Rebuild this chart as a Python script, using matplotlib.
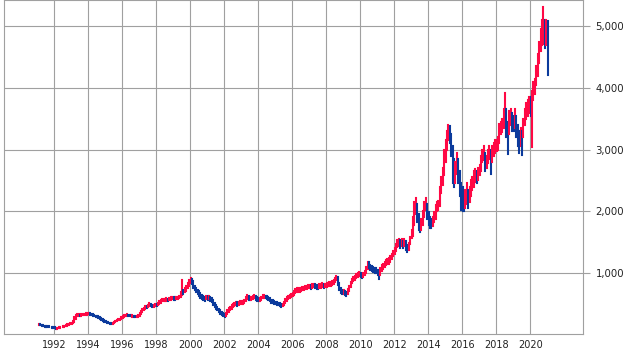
import pandas as pd
import matplotlib
matplotlib.use('Agg')
import matplotlib.pyplot as plt
import matplotlib.dates as mdates
from matplotlib.ticker import FuncFormatter

# monthly bars, Feb 1991 .. Jan 2021 (close / high / low)
close = [
    160, 158, 150, 140, 132, 128, 125, 122, 120, 118, 115,             # 1991
    108, 100, 102, 110, 115, 120, 125, 130, 140, 155, 165, 175,        # 1992
    185, 195, 250, 300, 310, 315, 310, 315, 320, 325, 330, 335,        # 1993
    340, 330, 320, 310, 300, 295, 290, 280, 260, 240, 225, 215,        # 1994
    205, 195, 185, 180, 175, 185, 200, 215, 230, 240, 250, 265,        # 1995
    285, 300, 310, 315, 310, 305, 300, 300, 295, 290, 295, 300,        # 1996
    330, 370, 400, 420, 445, 440, 470, 490, 480, 460, 470, 480,        # 1997
    475, 500, 520, 540, 555, 560, 565, 570, 560, 575, 585, 590,        # 1998
    585, 580, 595, 600, 610, 650, 700, 690, 720, 760, 800, 850,        # 1999
    880, 850, 780, 740, 700, 680, 650, 620, 600, 590, 580, 600,        # 2000
    590, 600, 580, 540, 500, 470, 440, 410, 380, 350, 330, 320,        # 2001
    310, 330, 380, 410, 430, 450, 470, 480, 500, 490, 505, 510,        # 2002
    515, 520, 545, 575, 600, 590, 580, 590, 605, 620, 590, 570,        # 2003
    560, 570, 590, 610, 615, 610, 600, 585, 560, 540, 530, 520,        # 2004
    510, 500, 490, 480, 470, 475, 500, 540, 580, 600, 615, 630,        # 2005
    650, 670, 700, 715, 720, 720, 730, 740, 745, 755, 765, 770,        # 2006
    775, 770, 780, 790, 780, 770, 760, 780, 790, 800, 790, 795,        # 2007
    800, 810, 815, 820, 830, 850, 880, 920, 830, 750, 700, 680,        # 2008
    690, 660, 650, 700, 760, 820, 870, 900, 920, 950, 970, 980,        # 2009
    960, 950, 970, 990, 1050, 1150, 1120, 1090, 1070, 1050, 1040, 1030,  # 2010
    1010, 960, 1040, 1080, 1110, 1140, 1170, 1190, 1200, 1230, 1270, 1320,  # 2011
    1360, 1420, 1480, 1500, 1470, 1490, 1460, 1500, 1440, 1380, 1430, 1530,  # 2012
    1620, 1800, 2050, 2100, 1950, 1780, 1720, 1800, 1900, 2080, 2150, 1950,  # 2013
    1850, 1800, 1780, 1820, 1900, 2050, 2080, 2100, 2300, 2450, 2600, 2850,  # 2014
    3050, 3250, 3350, 3250, 3000, 2700, 2550, 2650, 2800, 2600, 2400, 2200,  # 2015
    2100, 2050, 2200, 2300, 2150, 2300, 2400, 2450, 2550, 2600, 2550, 2620,  # 2016
    2700, 2800, 2900, 2950, 2750, 2800, 2900, 2950, 2850, 2950, 3000, 3050,  # 2017
    3050, 3100, 3300, 3350, 3400, 3500, 3600, 3450, 3300, 3500, 3550, 3450,  # 2018
    3400, 3500, 3350, 3200, 3100, 3250, 3150, 3450, 3550, 3650, 3700, 3750,  # 2019
    3700, 3850, 3950, 4050, 4200, 4400, 4600, 4800, 4900, 5000, 4850, 4950,  # 2020
    4800,                                                              # 2021
]
high = [
    170, 168, 160, 150, 140, 135, 132, 130, 128, 126, 122,
    116, 110, 110, 118, 122, 128, 132, 138, 150, 162, 172, 182,
    192, 210, 280, 320, 325, 325, 322, 325, 330, 335, 340, 345,
    350, 345, 335, 325, 315, 305, 300, 292, 282, 262, 242, 228,
    218, 208, 198, 190, 185, 192, 208, 222, 238, 248, 258, 275,
    292, 308, 318, 325, 320, 315, 310, 308, 305, 300, 302, 310,
    340, 385, 415, 435, 460, 455, 485, 510, 500, 485, 485, 495,
    495, 515, 535, 555, 570, 575, 580, 590, 580, 590, 600, 610,
    605, 600, 610, 615, 625, 680, 880, 720, 750, 790, 830, 880,
    915, 900, 860, 790, 760, 720, 700, 670, 640, 620, 610, 620,
    620, 630, 610, 590, 560, 510, 480, 450, 420, 390, 360, 345,
    330, 350, 400, 430, 450, 470, 495, 510, 525, 520, 530, 535,
    540, 545, 565, 600, 640, 620, 605, 615, 630, 645, 620, 600,
    585, 595, 615, 635, 640, 630, 625, 610, 585, 565, 555, 545,
    530, 525, 515, 505, 495, 500, 530, 570, 605, 625, 640, 655,
    675, 700, 730, 745, 750, 750, 760, 770, 775, 785, 790, 800,
    805, 800, 810, 820, 815, 800, 790, 810, 820, 835, 820, 825,
    830, 840, 845, 850, 860, 880, 910, 945, 925, 840, 760, 720,
    720, 700, 680, 740, 790, 850, 900, 930, 950, 980, 1000, 1010,
    1000, 985, 1000, 1030, 1100, 1180, 1170, 1130, 1110, 1090, 1080, 1070,
    1050, 1030, 1080, 1120, 1150, 1180, 1210, 1230, 1240, 1270, 1310, 1360,
    1400, 1470, 1530, 1550, 1530, 1540, 1520, 1550, 1510, 1450, 1480, 1580,
    1700, 1900, 2150, 2220, 2120, 1960, 1850, 1880, 2000, 2150, 2220, 2120,
    1980, 1900, 1880, 1900, 1980, 2100, 2150, 2160, 2400, 2550, 2700, 3000,
    3150, 3300, 3400, 3380, 3250, 3050, 2850, 2800, 2950, 2850, 2650, 2450,
    2400, 2250, 2350, 2450, 2350, 2400, 2500, 2550, 2650, 2680, 2650, 2700,
    2750, 2900, 3000, 3050, 2950, 2900, 3000, 3050, 3000, 3050, 3100, 3150,
    3150, 3200, 3420, 3450, 3500, 3650, 3910, 3650, 3450, 3620, 3650, 3600,
    3550, 3650, 3550, 3400, 3300, 3350, 3300, 3500, 3650, 3750, 3800, 3850,
    3850, 3950, 4100, 4150, 4350, 4550, 4750, 4950, 5100, 5320, 5100, 5100,
    5080,
]
low = [
    150, 148, 140, 132, 124, 120, 118, 115, 112, 110, 106,
    100, 92, 95, 100, 108, 112, 118, 122, 130, 142, 155, 165,
    175, 183, 195, 250, 295, 300, 300, 305, 310, 312, 318, 322,
    328, 322, 310, 300, 292, 285, 280, 265, 245, 228, 215, 205,
    198, 188, 178, 172, 165, 172, 185, 200, 215, 230, 240, 250,
    265, 282, 298, 305, 300, 296, 292, 290, 286, 282, 285, 290,
    298, 325, 365, 395, 415, 425, 440, 465, 460, 440, 450, 460,
    460, 470, 500, 515, 535, 545, 550, 550, 535, 555, 565, 570,
    565, 560, 575, 580, 590, 605, 640, 650, 680, 710, 750, 790,
    840, 820, 760, 720, 680, 650, 620, 590, 570, 560, 550, 570,
    560, 570, 550, 520, 480, 450, 420, 390, 360, 330, 310, 300,
    290, 305, 330, 370, 400, 420, 440, 455, 470, 465, 480, 490,
    495, 500, 515, 540, 570, 565, 555, 560, 580, 595, 565, 545,
    540, 550, 565, 585, 590, 590, 580, 560, 540, 515, 505, 500,
    490, 480, 470, 460, 450, 455, 475, 510, 550, 580, 595, 610,
    625, 645, 670, 690, 695, 695, 705, 715, 720, 730, 740, 745,
    745, 740, 755, 765, 750, 740, 730, 750, 760, 770, 760, 765,
    770, 780, 785, 790, 800, 820, 845, 875, 800, 720, 670, 650,
    660, 640, 625, 655, 710, 770, 830, 860, 880, 910, 935, 945,
    930, 915, 935, 960, 1000, 1060, 1080, 1050, 1030, 1010, 1000, 990,
    970, 900, 960, 1030, 1060, 1090, 1120, 1140, 1150, 1180, 1220, 1270,
    1310, 1360, 1420, 1440, 1410, 1430, 1400, 1440, 1370, 1330, 1370, 1460,
    1560, 1600, 1780, 1950, 1820, 1700, 1660, 1700, 1780, 1900, 2020, 1880,
    1780, 1720, 1720, 1760, 1830, 1880, 2000, 2020, 2080, 2300, 2420, 2580,
    2800, 3000, 3150, 3100, 2900, 2450, 2400, 2450, 2600, 2450, 2250, 2020,
    2010, 2000, 2050, 2120, 2050, 2150, 2250, 2350, 2400, 2480, 2450, 2500,
    2580, 2650, 2800, 2830, 2650, 2700, 2780, 2850, 2600, 2800, 2900, 2950,
    2980, 2990, 3100, 3250, 3280, 3350, 3450, 3200, 2935, 3250, 3400, 3300,
    3300, 3350, 3200, 3050, 2950, 3050, 2910, 3200, 3400, 3500, 3550, 3600,
    3550, 3040, 3800, 3900, 4050, 4200, 4400, 4600, 4700, 4720, 4650, 4700,
    4210,
]

UP = '#ff0844'
DOWN = '#0b3a9c'
GRID = '#a0a0a0'

dates = pd.date_range('1991-02-01', periods=len(close), freq='MS') + pd.Timedelta(days=5)
prev = [close[0]] + close[:-1]
colors = [UP if c >= p else DOWN for c, p in zip(close, prev)]

fig = plt.figure(figsize=(6.23, 3.51), dpi=100)
ax = fig.add_axes([4 / 623, 1 - 334.4 / 351, 579 / 623, 334 / 351])

bars = ax.vlines(dates, low, high, colors=colors, linewidth=1.5)
bars.set_capstyle('projecting')

ax.set_xlim(pd.Timestamp('1989-01-15'), pd.Timestamp('2023-02-05'))
ax.set_ylim(0, 5420)

ax.set_xticks([pd.Timestamp(f'{y}-01-01') for y in range(1992, 2021, 2)])
ax.xaxis.set_major_formatter(mdates.DateFormatter('%Y'))
ax.set_yticks([1000, 2000, 3000, 4000, 5000])
ax.yaxis.set_major_formatter(FuncFormatter(lambda v, _: f'{int(v):,}'))

ax.yaxis.tick_right()
ax.tick_params(axis='y', length=5, width=0.8, color=GRID, pad=4, labelsize=7.3, labelcolor='#222222')
ax.tick_params(axis='x', length=0, pad=4, labelsize=7.0, labelcolor='#222222')

ax.grid(True, color=GRID, linewidth=0.8)
ax.set_axisbelow(True)
for s in ax.spines.values():
    s.set_color(GRID)
    s.set_linewidth(0.8)

fig.savefig('out.png', dpi=100)
